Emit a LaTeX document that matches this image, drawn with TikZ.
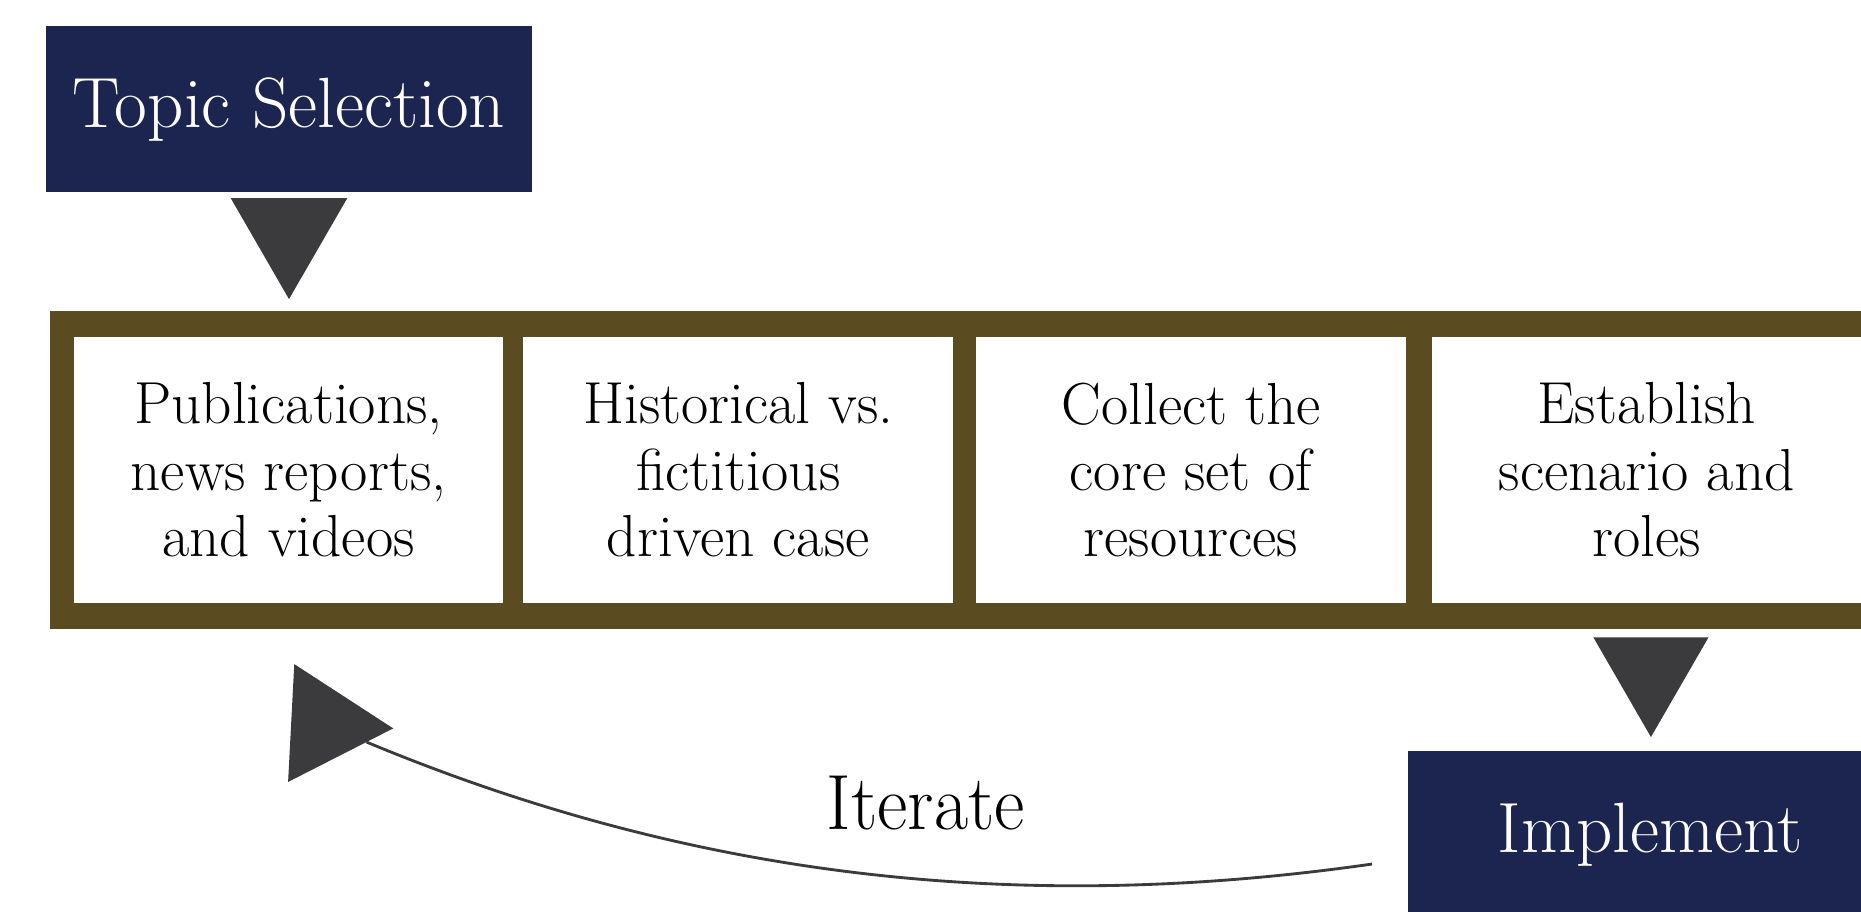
\documentclass[tikz,border=0pt]{standalone}
\usepackage{fontspec}
\usetikzlibrary{shapes.geometric}
\definecolor{navy}{HTML}{1B2550}
\definecolor{bandbrown}{HTML}{5B4B21}
\definecolor{pointergray}{HTML}{3B3B3D}
\begin{document}
\begin{tikzpicture}[x=1pt,y=-1pt,
  stage/.style={fill=navy, text=white, minimum width=409pt, minimum height=140pt,
    inner sep=0pt, font=\fontsize{60}{66}\selectfont},
  stepbox/.style={fill=white, minimum width=362pt, minimum height=224pt,
    inner sep=0pt, align=center, font=\fontsize{50}{56}\selectfont},
  pointer/.style={regular polygon, regular polygon sides=3, fill=pointergray,
    draw=none, inner sep=0pt, outer sep=0pt, minimum size=#1},
]
\useasboundingbox (0,0) rectangle (1568,768);
\clip (0,0) rectangle (1568,768);

% brown frame holding the four steps
\fill[bandbrown] (42,262) rectangle (1620,530);

\node[stepbox] (s1) at (243,396)    {Publications,\\news reports,\\and videos};
\node[stepbox] (s2) at (622,396)    {Historical vs.\\fictitious\\driven case};
\node[stepbox] (s3) at (1003.5,396) {Collect the\\core set of\\resources};
\node[stepbox] (s4) at (1387.5,396) {Establish\\scenario and\\roles};

% start and end stages
\node[stage] (topic) at (243.5,92) {Topic Selection};
\node[stage] (impl)  at (1390.5,703) {Implement};

% downward pointers
\node[pointer=113.4pt, shape border rotate=180] (p1) at (243.5,195.3) {};
\node[pointer=112pt, shape border rotate=180]   (p2) at (1391,565) {};

% feedback loop
\node[pointer=114.8pt, shape border rotate=27] (loophead) at (274,610.7) {};
\coordinate (loopstart) at (1156,728);
\draw[pointergray, line width=2.4pt]
  (loopstart) .. controls (856,771) and (582,739) .. (loophead);
\node (iter) at (780,677) {\fontsize{66}{70}\selectfont\scalebox{0.95}[1]{Iterate}};
\end{tikzpicture}
\end{document}
